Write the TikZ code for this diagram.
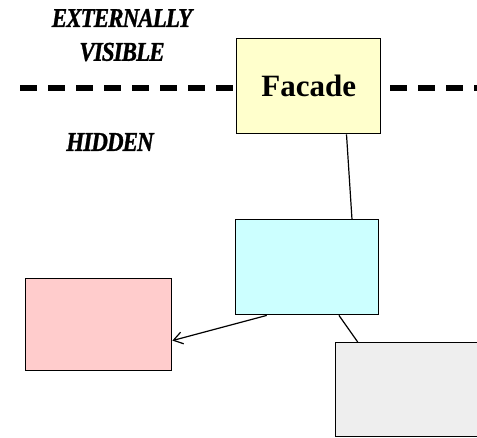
\documentclass[tikz,border=0pt]{standalone}
\usepackage{fontspec}
\setmainfont{Liberation Serif}
\newfontface\lblfont{Liberation Serif Bold Italic}[FakeBold=1.2,LetterSpace=-4]
\usetikzlibrary{calc,arrows.meta}
\begin{document}
\begin{tikzpicture}[x=1pt,y=-1pt,
  box/.style={draw=black,line width=1.4pt,inner sep=0pt,anchor=north west},
  lbl/.style={font=\fontsize{23}{23}\lblfont,inner sep=0pt,yscale=1.18},
  sep/.style={line width=5.5pt,dash pattern=on 17pt off 11pt},
  conn/.style={line width=1.2pt}]
\useasboundingbox (0,0) rectangle (477,437);
\begin{scope}
\clip (0,0) rectangle (477,437);
\coordinate (dl0) at (20,88);
\coordinate (dl1) at (236,88);
\coordinate (dr0) at (390,88);
\coordinate (dr1) at (477,88);
\draw[sep] (dl0) -- (dl1);
\draw[sep] (dr0) -- (dr1);
\node[box,fill={rgb,255:red,255;green,255;blue,204},minimum width=144pt,minimum height=95pt,font=\fontsize{31}{31}\selectfont\bfseries] (facade) at (236,38) {Facade};
\node[box,fill={rgb,255:red,204;green,255;blue,255},minimum width=143pt,minimum height=95pt] (hub) at (235,219) {};
\node[box,fill={rgb,255:red,255;green,204;blue,204},minimum width=146pt,minimum height=92pt] (pink) at (25,278) {};
\node[box,fill={rgb,255:red,238;green,238;blue,238},minimum width=150pt,minimum height=94pt] (gray) at (335,342) {};
\node[lbl] (ext) at (122,18) {EXTERNALLY};
\node[lbl] (vis) at (122,52) {VISIBLE};
\node[lbl] (hid) at (110,142) {HIDDEN};
\draw[conn] ($(facade.south west)!0.76!(facade.south east)$) -- ($(hub.north west)!0.81!(hub.north east)$);
\draw[conn,-{Straight Barb[length=9pt,width=12pt]}] ($(hub.south west)!0.22!(hub.south east)$) -- ($(pink.north east)!0.67!(pink.south east)$);
\draw[conn] ($(hub.south west)!0.72!(hub.south east)$) -- ($(gray.north west)!0.15!(gray.north east)$);
\end{scope}
\end{tikzpicture}
\end{document}
